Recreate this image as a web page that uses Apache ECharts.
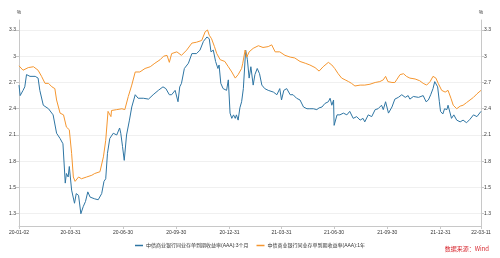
<!DOCTYPE html>
<html>
<head>
<meta charset="utf-8">
<script src="https://cdn.jsdelivr.net/npm/echarts@6/dist/echarts.min.js"></script>
<style>
  html, body { margin: 0; padding: 0; background: #fff; }
  #chart { width: 500px; height: 258px; }
</style>
</head>
<body>
<div id="chart"></div>
<script>
  // 3个月 (blue)
  var blueDates = ['2020-01-02', '2020-01-04', '2020-01-09', '2020-01-12', '2020-01-15', '2020-01-21', '2020-01-30', '2020-02-04', '2020-02-07', '2020-02-13',
    '2020-02-22', '2020-03-01', '2020-03-07', '2020-03-13', '2020-03-18', '2020-03-22', '2020-03-24', '2020-03-27', '2020-03-29', '2020-04-02',
    '2020-04-07', '2020-04-10', '2020-04-14', '2020-04-18', '2020-04-22', '2020-04-26', '2020-04-30', '2020-05-04', '2020-05-12', '2020-05-18',
    '2020-05-24', '2020-05-28', '2020-05-31', '2020-06-03', '2020-06-07', '2020-06-13', '2020-06-19', '2020-06-24', '2020-06-26', '2020-06-29',
    '2020-07-02', '2020-07-06', '2020-07-11', '2020-07-15', '2020-07-21', '2020-07-26', '2020-08-04', '2020-08-13', '2020-08-21', '2020-08-30',
    '2020-09-07', '2020-09-12', '2020-09-18', '2020-09-22', '2020-09-28', '2020-10-03', '2020-10-06', '2020-10-09', '2020-10-14', '2020-10-21',
    '2020-10-27', '2020-11-04', '2020-11-10', '2020-11-16', '2020-11-22', '2020-11-26', '2020-11-29', '2020-12-03', '2020-12-07', '2020-12-11',
    '2020-12-13', '2020-12-16', '2020-12-20', '2020-12-26', '2020-12-29', '2021-01-01', '2021-01-04', '2021-01-07', '2021-01-10', '2021-01-12',
    '2021-01-15', '2021-01-18', '2021-01-21', '2021-01-24', '2021-01-28', '2021-01-31', '2021-02-03', '2021-02-06', '2021-02-10', '2021-02-13',
    '2021-02-17', '2021-02-21', '2021-02-25', '2021-03-02', '2021-03-08', '2021-03-17', '2021-03-23', '2021-03-28', '2021-03-31', '2021-04-04',
    '2021-04-09', '2021-04-15', '2021-04-20', '2021-04-26', '2021-05-02', '2021-05-08', '2021-05-14', '2021-05-19', '2021-05-25', '2021-05-31',
    '2021-06-04', '2021-06-09', '2021-06-14', '2021-06-20', '2021-06-23', '2021-06-26', '2021-06-29', '2021-06-30', '2021-07-05', '2021-07-10',
    '2021-07-16', '2021-07-22', '2021-07-27', '2021-08-02', '2021-08-08', '2021-08-14', '2021-08-19', '2021-08-22', '2021-08-28', '2021-09-03',
    '2021-09-09', '2021-09-14', '2021-09-20', '2021-09-23', '2021-09-27', '2021-10-02', '2021-10-08', '2021-10-13', '2021-10-19', '2021-10-25',
    '2021-10-31', '2021-11-05', '2021-11-08', '2021-11-14', '2021-11-23', '2021-12-01', '2021-12-06', '2021-12-10', '2021-12-14', '2021-12-18',
    '2021-12-21', '2021-12-26', '2021-12-29', '2021-12-31', '2022-01-04', '2022-01-07', '2022-01-11', '2022-01-13', '2022-01-16', '2022-01-19',
    '2022-01-23', '2022-01-28', '2022-02-03', '2022-02-08', '2022-02-14', '2022-02-20', '2022-02-26', '2022-03-04', '2022-03-11'];
  var blueValues = [2.67, 2.55, 2.61, 2.65, 2.79, 2.77, 2.77, 2.75, 2.61, 2.44,
    2.40, 2.33, 2.12, 2.06, 2.00, 1.55, 1.66, 1.62, 1.74, 1.47,
    1.32, 1.43, 1.41, 1.20, 1.28, 1.34, 1.45, 1.39, 1.37, 1.36,
    1.43, 1.57, 1.60, 1.89, 2.06, 2.12, 2.10, 2.18, 2.12, 1.97,
    1.81, 2.10, 2.27, 2.42, 2.56, 2.52, 2.52, 2.51, 2.56, 2.61,
    2.65, 2.63, 2.56, 2.56, 2.61, 2.48, 2.65, 2.69, 2.86, 2.92,
    3.03, 3.03, 3.07, 3.17, 3.22, 3.20, 3.05, 3.07, 2.94, 2.86,
    2.90, 2.69, 2.63, 2.61, 2.73, 2.35, 2.29, 2.33, 2.29, 2.33,
    2.27, 2.41, 2.48, 2.63, 3.07, 2.96, 2.75, 2.88, 2.67, 2.79,
    2.86, 2.80, 2.67, 2.63, 2.61, 2.59, 2.56, 2.63, 2.50, 2.61,
    2.63, 2.56, 2.56, 2.52, 2.50, 2.42, 2.40, 2.40, 2.40, 2.39,
    2.41, 2.42, 2.46, 2.48, 2.52, 2.44, 2.50, 2.21, 2.33, 2.33,
    2.35, 2.33, 2.37, 2.29, 2.31, 2.27, 2.29, 2.25, 2.33, 2.31,
    2.39, 2.40, 2.44, 2.39, 2.48, 2.35, 2.42, 2.51, 2.53, 2.56,
    2.53, 2.55, 2.51, 2.54, 2.53, 2.55, 2.48, 2.50, 2.56, 2.63,
    2.71, 2.65, 2.48, 2.37, 2.34, 2.40, 2.39, 2.44, 2.42, 2.29,
    2.33, 2.27, 2.25, 2.27, 2.24, 2.28, 2.33, 2.31, 2.37];

  // 1年 (orange)
  var orangeDates = ['2020-01-02', '2020-01-09', '2020-01-18', '2020-01-27', '2020-02-04', '2020-02-10', '2020-02-16', '2020-02-22', '2020-02-28', '2020-03-04',
    '2020-03-07', '2020-03-13', '2020-03-19', '2020-03-24', '2020-03-29', '2020-04-02', '2020-04-05', '2020-04-08', '2020-04-14', '2020-04-19',
    '2020-04-28', '2020-05-07', '2020-05-12', '2020-05-21', '2020-05-27', '2020-05-31', '2020-06-04', '2020-06-09', '2020-06-10', '2020-06-19',
    '2020-06-28', '2020-07-03', '2020-07-09', '2020-07-15', '2020-07-21', '2020-07-29', '2020-08-07', '2020-08-16', '2020-08-24', '2020-09-02',
    '2020-09-08', '2020-09-14', '2020-09-18', '2020-09-22', '2020-10-01', '2020-10-09', '2020-10-18', '2020-10-27', '2020-11-04', '2020-11-13',
    '2020-11-19', '2020-11-23', '2020-11-26', '2020-11-30', '2020-12-05', '2020-12-09', '2020-12-15', '2020-12-23', '2020-12-29', '2021-01-04',
    '2021-01-10', '2021-01-15', '2021-01-21', '2021-01-23', '2021-01-27', '2021-01-30', '2021-02-03', '2021-02-10', '2021-02-19', '2021-02-27',
    '2021-03-08', '2021-03-14', '2021-03-20', '2021-03-28', '2021-04-06', '2021-04-15', '2021-04-23', '2021-05-02', '2021-05-11', '2021-05-19',
    '2021-05-28', '2021-06-04', '2021-06-11', '2021-06-20', '2021-06-26', '2021-07-01', '2021-07-07', '2021-07-13', '2021-07-19', '2021-07-25',
    '2021-07-30', '2021-08-05', '2021-08-14', '2021-08-22', '2021-08-31', '2021-09-09', '2021-09-17', '2021-09-23', '2021-09-27', '2021-10-01',
    '2021-10-08', '2021-10-13', '2021-10-16', '2021-10-22', '2021-10-28', '2021-11-02', '2021-11-08', '2021-11-17', '2021-11-25', '2021-12-01',
    '2021-12-07', '2021-12-13', '2021-12-18', '2021-12-23', '2021-12-27', '2022-01-02', '2022-01-08', '2022-01-13', '2022-01-18', '2022-01-22',
    '2022-01-28', '2022-02-03', '2022-02-08', '2022-02-14', '2022-02-20', '2022-02-26', '2022-03-04', '2022-03-11'];
  var orangeValues = [2.89, 2.84, 2.87, 2.88, 2.84, 2.77, 2.69, 2.69, 2.65, 2.63,
    2.50, 2.35, 2.33, 2.19, 2.16, 1.89, 1.62, 1.57, 1.62, 1.60,
    1.62, 1.64, 1.66, 1.68, 1.85, 2.04, 2.37, 2.31, 2.38, 2.39,
    2.40, 2.39, 2.54, 2.67, 2.82, 2.82, 2.86, 2.88, 2.92, 2.96,
    3.00, 3.01, 2.93, 3.03, 3.05, 3.01, 3.07, 3.15, 3.16, 3.18,
    3.28, 3.30, 3.24, 3.20, 3.11, 3.03, 2.96, 2.94, 2.88, 2.82,
    2.75, 2.79, 2.86, 2.92, 3.07, 2.99, 3.05, 3.09, 3.12, 3.10,
    3.11, 3.13, 3.05, 3.05, 3.01, 2.99, 2.98, 2.94, 2.92, 2.90,
    2.87, 2.83, 2.88, 2.93, 2.90, 2.86, 2.80, 2.75, 2.73, 2.71,
    2.69, 2.66, 2.67, 2.67, 2.68, 2.70, 2.71, 2.73, 2.77, 2.71,
    2.70, 2.70, 2.73, 2.79, 2.80, 2.77, 2.75, 2.74, 2.72, 2.69,
    2.67, 2.71, 2.77, 2.75, 2.69, 2.61, 2.59, 2.61, 2.52, 2.44,
    2.40, 2.43, 2.44, 2.47, 2.50, 2.53, 2.57, 2.61];

  var xTickDates = ['2020-01-02', '2020-03-31', '2020-06-30', '2020-09-30', '2020-12-31',
    '2021-03-31', '2021-06-30', '2021-09-30', '2021-12-31', '2022-03-11'];
  var yTickValues = [1.2, 1.5, 1.8, 2.1, 2.4, 2.7, 3, 3.3];
  var yTickLabels = ['1.3', '1.5', '1.8', '2.1', '2.4', '2.7', '3', '3.3'];

  var seriesNames = ['中债商业银行同业存单到期收益率(AAA):3个月', '中债商业银行同业存单到期收益率(AAA):1年'];

  function toTime(s) {
    var p = s.split('-');
    return Date.UTC(+p[0], +p[1] - 1, +p[2]);
  }
  function pairs(dates, values) {
    return dates.map(function (d, i) { return [toTime(d), values[i]]; });
  }
  var xTickTimes = xTickDates.map(toTime);

  var chart = echarts.init(document.getElementById('chart'));

  function yAxis(pos) {
    return {
      type: 'value',
      position: pos,
      min: 1.06,
      max: 3.414,
      name: '%',
      nameLocation: 'end',
      nameGap: 5,
      nameTextStyle: {fontSize: 5, color: '#333', align: 'center'},
      axisLine: {show: true, lineStyle: {color: '#c8c8c8'}},
      axisTick: {show: true, length: 3, customValues: yTickValues, lineStyle: {color: '#c8c8c8'}},
      axisLabel: {
        fontSize: 5, color: '#333', margin: 3,
        customValues: yTickValues,
        formatter: function (v) {
          var i = yTickValues.indexOf(Math.round(v * 10) / 10);
          return i >= 0 ? yTickLabels[i] : '';
        }
      },
      splitLine: {show: pos === 'left', lineStyle: {color: '#f0f0f0', width: 1}}
    };
  }

  chart.setOption({
    animation: false,
    textStyle: {fontFamily: 'Liberation Sans, "Noto Sans CJK SC", sans-serif'},
    color: ['#2e75a3', '#f5962f'],
    grid: {left: 19, right: 19, top: 20, bottom: 32},
    legend: {
      data: seriesNames,
      top: 238,
      left: 'center',
      icon: 'rect',
      itemWidth: 8,
      itemHeight: 1.5,
      itemGap: 8,
      textStyle: {fontSize: 5, color: '#333', padding: [0, 0, 0, -2]}
    },
    xAxis: {
      type: 'value',
      min: toTime('2020-01-02'),
      max: toTime('2022-03-11'),
      axisLine: {lineStyle: {color: '#c8c8c8'}},
      axisTick: {show: true, length: 3, customValues: xTickTimes, lineStyle: {color: '#c8c8c8'}},
      axisLabel: {
        fontSize: 5, color: '#333', margin: 4,
        customValues: xTickTimes,
        showMinLabel: true, showMaxLabel: true,
        formatter: function (v) {
          var i = xTickTimes.indexOf(v);
          return i >= 0 ? xTickDates[i].slice(2) : '';
        }
      },
      splitLine: {show: false}
    },
    yAxis: [yAxis('left'), yAxis('right')],
    series: [
      {
        name: seriesNames[0],
        type: 'line',
        showSymbol: false,
        lineStyle: {width: 1},
        data: pairs(blueDates, blueValues)
      },
      {
        name: seriesNames[1],
        type: 'line',
        showSymbol: false,
        lineStyle: {width: 1},
        data: pairs(orangeDates, orangeValues)
      }
    ],
    graphic: [{
      type: 'text',
      right: 11,
      top: 246,
      style: {text: '数据来源：Wind', fontSize: 6, fill: '#d7262e', fontFamily: '"Noto Sans CJK SC", sans-serif'}
    }]
  });
</script>
</body>
</html>
